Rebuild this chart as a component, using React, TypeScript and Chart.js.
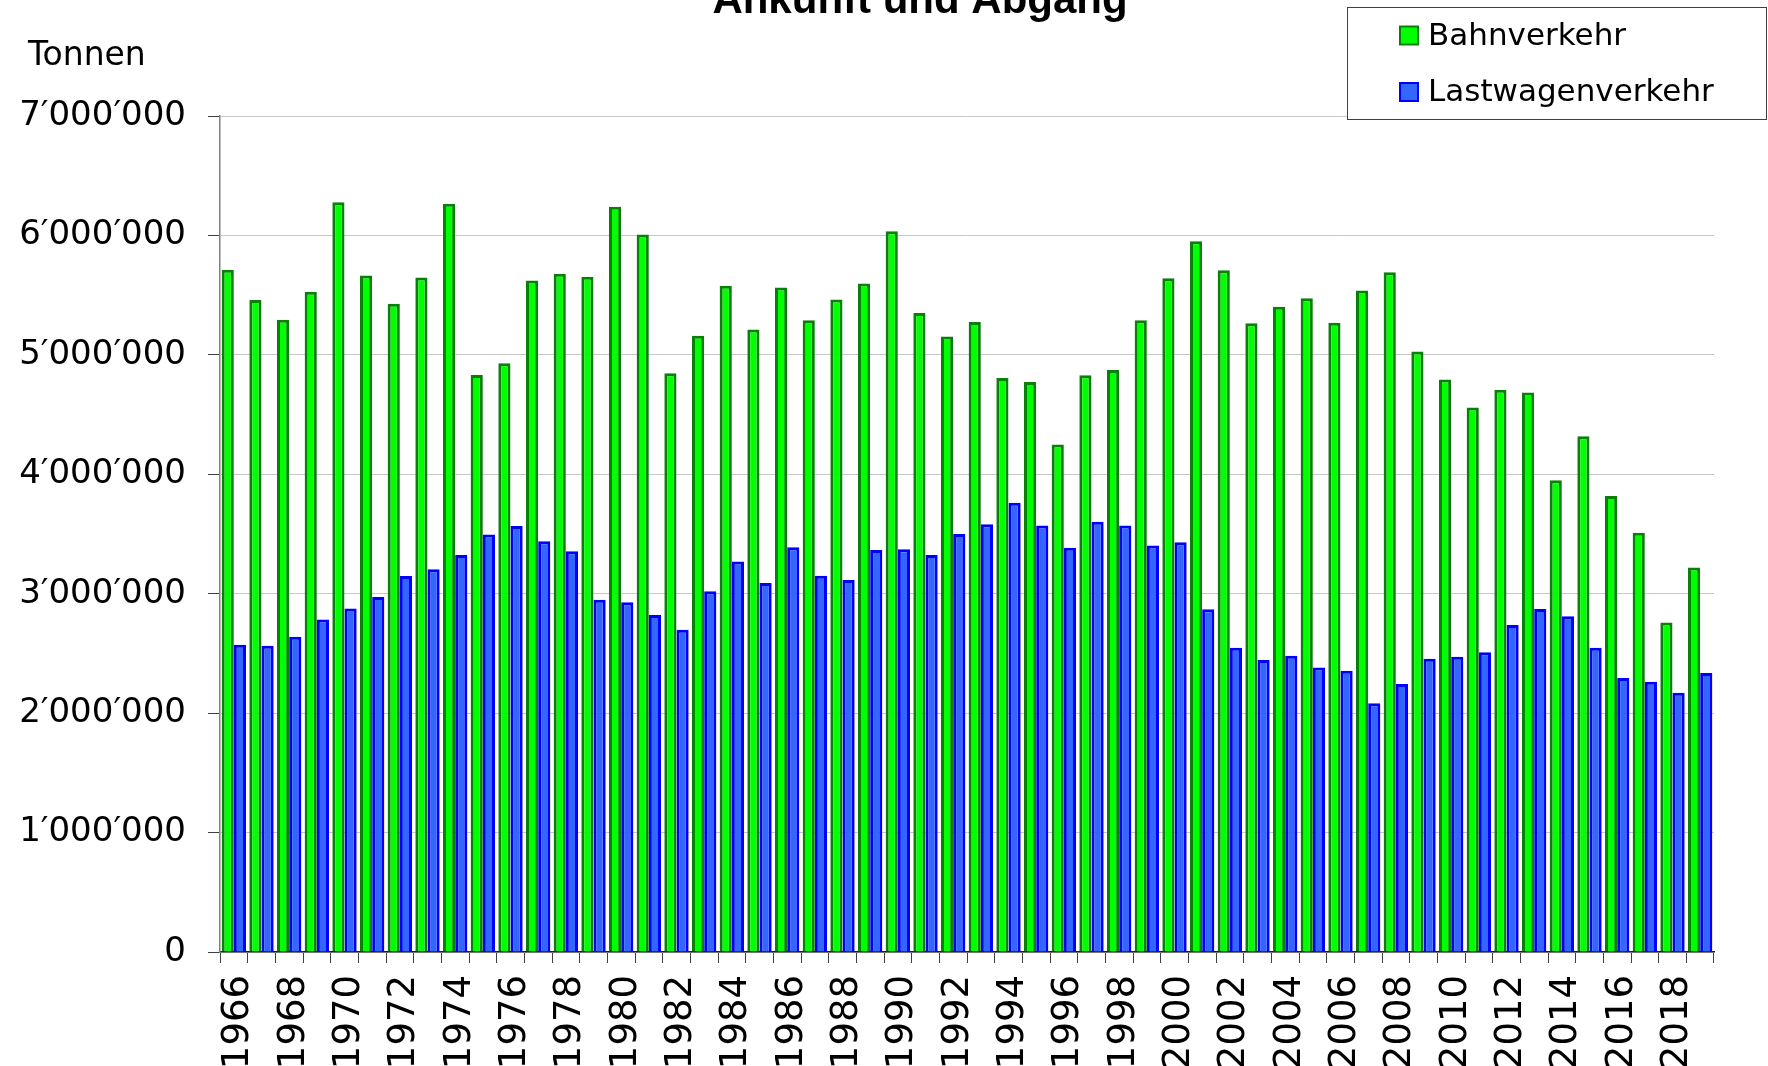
import React, { useEffect, useRef } from "react";
import { Chart, registerables } from "chart.js";

Chart.register(...registerables);

const chartTitle = "Ankunft und Abgang";
const unitLabel = "Tonnen";

const years = [
  "1966", "1967", "1968", "1969", "1970", "1971", "1972", "1973", "1974", "1975",
  "1976", "1977", "1978", "1979", "1980", "1981", "1982", "1983", "1984", "1985",
  "1986", "1987", "1988", "1989", "1990", "1991", "1992", "1993", "1994", "1995",
  "1996", "1997", "1998", "1999", "2000", "2001", "2002", "2003", "2004", "2005",
  "2006", "2007", "2008", "2009", "2010", "2011", "2012", "2013", "2014", "2015",
  "2016", "2017", "2018", "2019",
];

const bahnverkehr = [
  5712000, 5460000, 5293000, 5528000, 6277000, 5665000, 5427000, 5648000, 6266000, 4831000,
  4929000, 5623000, 5679000, 5653000, 6240000, 6008000, 4845000, 5161000, 5578000, 5212000,
  5564000, 5290000, 5463000, 5597000, 6034000, 5351000, 5153000, 5276000, 4806000, 4773000,
  4250000, 4829000, 4873000, 5290000, 5642000, 5952000, 5708000, 5265000, 5403000, 5474000,
  5269000, 5538000, 5692000, 5028000, 4794000, 4560000, 4708000, 4685000, 3950000, 4319000,
  3819000, 3511000, 2760000, 3219000,
];

const lastwagenverkehr = [
  2573000, 2564000, 2640000, 2785000, 2877000, 2972000, 3148000, 3204000, 3325000, 3495000,
  3568000, 3440000, 3356000, 2950000, 2928000, 2822000, 2699000, 3020000, 3269000, 3090000,
  3389000, 3151000, 3115000, 3367000, 3372000, 3325000, 3501000, 3582000, 3761000, 3571000,
  3384000, 3602000, 3571000, 3403000, 3431000, 2869000, 2548000, 2446000, 2481000, 2382000,
  2356000, 2083000, 2244000, 2456000, 2472000, 2510000, 2738000, 2872000, 2811000, 2548000,
  2295000, 2263000, 2170000, 2337000,
];

const yTickLabels = [
  "0", "1\u2032000\u2032000", "2\u2032000\u2032000", "3\u2032000\u2032000",
  "4\u2032000\u2032000", "5\u2032000\u2032000", "6\u2032000\u2032000", "7\u2032000\u2032000",
];

const seriesNames = ["Bahnverkehr", "Lastwagenverkehr"];

const W = 1768;
const H = 1066;

export default function App() {
  const ref = useRef<HTMLCanvasElement | null>(null);

  useEffect(() => {
    document.body.style.margin = "0";
    document.body.style.overflow = "hidden";
    const canvas = ref.current;
    if (!canvas) return;

    const overlay = {
      id: "overlay",
      afterDraw(chart: any) {
        const ctx = chart.ctx;
        ctx.save();
        // title (partly cut off at the top)
        ctx.fillStyle = "#000";
        ctx.font = "bold 42px 'Liberation Sans', Arial, sans-serif";
        ctx.textAlign = "center";
        ctx.textBaseline = "alphabetic";
        ctx.fillText(chartTitle, 920, 13);
        // unit label
        ctx.font = "33px 'DejaVu Sans', Verdana, sans-serif";
        ctx.textAlign = "left";
        ctx.fillText(unitLabel, 28, 65);
        // legend
        ctx.fillStyle = "#fff";
        ctx.fillRect(1347.5, 7.5, 419, 112);
        ctx.strokeStyle = "#404040";
        ctx.lineWidth = 1;
        ctx.strokeRect(1347.5, 7.5, 419, 112);
        const rows = [35.5, 92];
        chart.data.datasets.forEach((ds: any, i: number) => {
          const cy = rows[i];
          ctx.fillStyle = ds.backgroundColor;
          ctx.fillRect(1400, cy - 9, 18, 18);
          ctx.strokeStyle = ds.borderColor;
          ctx.lineWidth = 2;
          ctx.strokeRect(1400, cy - 9, 18, 18);
          ctx.fillStyle = "#000";
          ctx.font = "31px 'DejaVu Sans', Verdana, sans-serif";
          ctx.textAlign = "left";
          ctx.textBaseline = "middle";
          ctx.fillText(ds.label, 1428, cy + 1);
        });
        ctx.restore();
      },
    };

    const chart = new Chart(canvas, {
      type: "bar",
      data: {
        labels: years,
        datasets: [
          {
            label: seriesNames[0],
            data: bahnverkehr,
            backgroundColor: "#00ff00",
            borderColor: "#0a800a",
            borderWidth: 3,
            categoryPercentage: 0.88,
            barPercentage: 1.0,
          },
          {
            label: seriesNames[1],
            data: lastwagenverkehr,
            backgroundColor: "#3366ff",
            borderColor: "#0000ff",
            borderWidth: 3,
            categoryPercentage: 0.88,
            barPercentage: 1.0,
          },
        ],
      },
      options: {
        responsive: false,
        animation: false,
        layout: { padding: { top: 116, right: 54, left: 0, bottom: 0 } },
        plugins: {
          legend: { display: false },
          title: { display: false },
          tooltip: { enabled: false },
        },
        scales: {
          x: {
            offset: true,
            grid: {
              offset: true,
              drawOnChartArea: false,
              drawTicks: true,
              tickLength: 11,
              tickColor: "#404040",
            },
            border: { color: "#202020", width: 1.5 },
            ticks: {
              autoSkip: false,
              maxRotation: 90,
              minRotation: 90,
              padding: 12,
              labelOffset: 5,
              color: "#000",
              font: { family: "'DejaVu Sans', Verdana, sans-serif", size: 37 },
              callback: (_v: any, i: number) => (i % 2 === 0 ? years[i] : ""),
            },
            afterFit: (scale: any) => {
              scale.height = 114;
            },
          },
          y: {
            min: 0,
            max: 7000000,
            grid: {
              color: "#c8c8c8",
              lineWidth: 1,
              tickLength: 12,
              tickColor: "#404040",
            },
            border: { color: "#808080", width: 1.5 },
            ticks: {
              stepSize: 1000000,
              padding: 22,
              color: "#000",
              font: { family: "'DejaVu Sans', Verdana, sans-serif", size: 34 },
              callback: (v: any) => yTickLabels[Math.round(Number(v) / 1000000)],
            },
            afterFit: (scale: any) => {
              scale.width = 220;
            },
          },
        },
      },
      plugins: [overlay],
    });

    return () => chart.destroy();
  }, []);

  return (
    <canvas
      ref={ref}
      width={W}
      height={H}
      style={{ display: "block", width: W + "px", height: H + "px", background: "#fff" }}
    />
  );
}
